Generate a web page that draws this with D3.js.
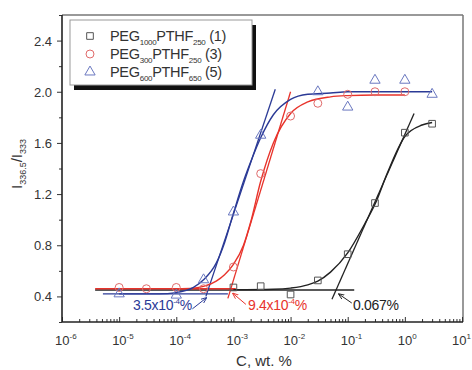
<!DOCTYPE html>
<html><head><meta charset="utf-8">
<script src="https://cdn.jsdelivr.net/npm/d3@7/dist/d3.min.js"></script>
<style>body{margin:0;background:#fff}svg{display:block}text{font-family:"Liberation Sans",Arial,sans-serif}</style>
</head><body><svg id="c" width="472" height="370"></svg>
<script>
// ---- data ----
const yTicks = [0.4, 0.8, 1.2, 1.6, 2.0, 2.4];
const yMinor = [0.2, 0.6, 1.0, 1.4, 1.8, 2.2, 2.6];
const xExponents = [-6, -5, -4, -3, -2, -1, 0, 1];

// series 1: PEG1000PTHF250 (black squares)
const conc1 = [1e-3, 3e-3, 1e-2, 3e-2, 0.1, 0.3, 1, 3];
const ratio1 = [0.47, 0.48, 0.415, 0.525, 0.73, 1.13, 1.68, 1.75];
// series 3: PEG300PTHF250 (red circles)
const conc3 = [1e-5, 3e-5, 1e-4, 3e-4, 1e-3, 3e-3, 1e-2, 3e-2, 0.1, 0.3, 1];
const ratio3 = [0.47, 0.46, 0.47, 0.46, 0.63, 1.36, 1.81, 1.91, 1.98, 2.0, 2.0];
// series 5: PEG600PTHF650 (blue triangles)
const conc5 = [1e-5, 1e-4, 3e-4, 1e-3, 3e-3, 3e-2, 0.1, 0.3, 1, 3];
const ratio5 = [0.42, 0.41, 0.53, 1.06, 1.66, 2.0, 1.88, 2.09, 2.09, 1.98];

// fitted curves (traced)
const fit1C = [1e-3, 5e-3, 1e-2, 2e-2, 3e-2, 5e-2, 0.1, 0.2, 0.3, 0.5, 1, 2, 3];
const fit1R = [0.452, 0.456, 0.465, 0.49, 0.52, 0.59, 0.74, 0.97, 1.12, 1.37, 1.65, 1.74, 1.76];
const fit3C = [1e-4, 2e-4, 3e-4, 5e-4, 7e-4, 1e-3, 1.5e-3, 2e-3, 3e-3, 5e-3, 1e-2, 2e-2, 5e-2, 0.1, 0.3, 1];
const fit3R = [0.46, 0.465, 0.478, 0.52, 0.57, 0.65, 0.80, 0.98, 1.30, 1.60, 1.83, 1.92, 1.96, 1.97, 1.975, 1.975];
const fit5C = [1e-5, 5e-5, 1e-4, 2e-4, 3e-4, 5e-4, 7e-4, 1e-3, 1.5e-3, 2e-3, 3e-3, 5e-3, 1e-2, 2e-2, 5e-2, 0.1, 0.3, 1, 3];
const fit5R = [0.42, 0.42, 0.43, 0.47, 0.53, 0.66, 0.82, 1.05, 1.30, 1.45, 1.64, 1.82, 1.94, 1.98, 1.99, 2.0, 2.0, 2.0, 2.0];

// baselines and tangents [x1, y1, x2, y2]
const base1 = [3.8e-6, 0.45, 0.13, 0.45];
const base3 = [3.8e-6, 0.46, 1.1e-3, 0.46];
const base5 = [5.2e-6, 0.42, 8e-4, 0.42];
const tan1 = [0.053, 0.377, 1.45, 1.83];
const tan3 = [8e-4, 0.385, 1.0e-2, 2.0];
const tan5 = [3.3e-4, 0.40, 5.4e-3, 2.02];

// CMC annotations: anchor (data), label
const cmcVal = [3.5e-4, 9.4e-4, 0.067];
const cmcLevel = [0.42, 0.455, 0.45];

const colors = {k: "#222", r: "#e8332b", b: "#2b3a96"};
const markColors = {k: "#555", r: "#e06a6a", b: "#6a78c0"};

// ---- layout ----
const svg = d3.select("#c");
const L = 62, R = 463, T = 15, B = 322;
const x = d3.scaleLog().domain([1e-6, 10]).range([L, 462]);
const y = d3.scaleLinear().domain([0.2, 2.6]).range([B, T]);

// frame
svg.append("line").attr("x1", L).attr("x2", R).attr("y1", T).attr("y2", T).attr("stroke", "#777").attr("stroke-width", 1.5);
svg.append("line").attr("x1", R).attr("x2", R).attr("y1", T).attr("y2", B).attr("stroke", "#777").attr("stroke-width", 1.5);

// y axis ticks (outward)
const yAxis = d3.axisLeft(y).tickValues(yTicks).tickSize(5).tickFormat(d3.format(".1f"));
const gy = svg.append("g").attr("transform", `translate(${L},0)`).call(yAxis);
gy.select(".domain").remove();
gy.selectAll(".tick line").attr("stroke", "#333");
gy.selectAll(".tick text").attr("font-size", 13).attr("fill", "#333").attr("x", -10).attr("dy", "0.35em")
  .attr("font-family", '"Liberation Sans",Arial,sans-serif');
const gym = svg.append("g").attr("transform", `translate(${L},0)`).call(d3.axisLeft(y).tickValues(yMinor).tickSize(3).tickFormat(""));
gym.select(".domain").remove();
gym.selectAll(".tick line").attr("stroke", "#333");

// x axis ticks (inward)
const majors = xExponents.map(e => Math.pow(10, e));
const minors = [];
xExponents.slice(0, -1).forEach(e => { for (let k = 2; k <= 9; k++) minors.push(k * Math.pow(10, e)); });
const gx = svg.append("g").attr("transform", `translate(0,${B})`).call(d3.axisBottom(x).tickValues(majors).tickSize(-5).tickFormat(""));
gx.select(".domain").remove();
gx.selectAll(".tick line").attr("stroke", "#333");
const gxm = svg.append("g").attr("transform", `translate(0,${B})`).call(d3.axisBottom(x).tickValues(minors).tickSize(-3).tickFormat(""));
gxm.select(".domain").remove();
gxm.selectAll(".tick line").attr("stroke", "#333");
xExponents.forEach((e, i) => {
  const last = i === xExponents.length - 1;
  const t = svg.append("text").attr("x", x(Math.pow(10, e)) - (last ? 10 : 7)).attr("y", 345).attr("font-size", 13).attr("fill", "#333");
  t.append("tspan").text("10");
  t.append("tspan").attr("dy", -6).attr("font-size", 8).text(e < 0 ? "-" + (-e) : String(e));
});

// axes lines
svg.append("line").attr("x1", L).attr("x2", L).attr("y1", T).attr("y2", B).attr("stroke", "#222").attr("stroke-width", 1.6);
svg.append("line").attr("x1", L).attr("x2", R).attr("y1", B).attr("y2", B).attr("stroke", "#222").attr("stroke-width", 1.6);

// axis titles
svg.append("text").attr("x", 264).attr("y", 366).attr("text-anchor", "middle").attr("font-size", 15).attr("fill", "#333").text("C, wt. %");
const yt = svg.append("text").attr("transform", "translate(22,164) rotate(-90)").attr("text-anchor", "middle").attr("font-size", 15).attr("fill", "#333");
yt.append("tspan").text("I");
yt.append("tspan").attr("font-size", 9).attr("dy", 4).text("336.5");
yt.append("tspan").attr("dy", -4).text("/I");
yt.append("tspan").attr("font-size", 9).attr("dy", 4).text("333");

// lines
const seg = (a, c, w) => svg.append("line").attr("x1", x(a[0])).attr("y1", y(a[1])).attr("x2", x(a[2])).attr("y2", y(a[3])).attr("stroke", c).attr("stroke-width", w);
seg(base5, colors.b, 1.4);
seg(base1, colors.k, 1.4);
seg(base3, colors.r, 1.4);
seg(tan1, colors.k, 1.3);
seg(tan3, colors.r, 1.3);
seg(tan5, colors.b, 1.3);

const line = d3.line().x(d => x(d[0])).y(d => y(d[1])).curve(d3.curveMonotoneX);
const curve = (cs, rs, c) => svg.append("path").attr("d", line(cs.map((v, i) => [v, rs[i]]))).attr("fill", "none").attr("stroke", c).attr("stroke-width", 1.4);
curve(fit1C, fit1R, colors.k);
curve(fit3C, fit3R, colors.r);
curve(fit5C, fit5R, colors.b);

// markers
const sq = d3.symbol().type(d3.symbolSquare).size(44);
const ci = d3.symbol().type(d3.symbolCircle).size(50);
const tr = d3.symbol().type(d3.symbolTriangle).size(46);
const pts = (cs, rs, sym, c) => svg.append("g").selectAll("path").data(cs.map((v, i) => [v, rs[i]])).join("path")
  .attr("transform", d => `translate(${x(d[0])},${y(d[1])})`).attr("d", sym).attr("fill", "none").attr("stroke", c).attr("stroke-width", 1);
pts(conc1, ratio1, sq, markColors.k);
pts(conc3, ratio3, ci, markColors.r);
pts(conc5, ratio5, tr, markColors.b);

// annotations
const defs = svg.append("defs");
[["k", colors.k], ["r", colors.r], ["b", colors.b]].forEach(([id, c]) => {
  defs.append("marker").attr("id", "ah" + id).attr("viewBox", "0 0 10 10").attr("refX", 9).attr("refY", 5)
    .attr("markerWidth", 6).attr("markerHeight", 6).attr("orient", "auto")
    .append("path").attr("d", "M0,1 L10,5 L0,9").attr("fill", "none").attr("stroke", c).attr("stroke-width", 1.5);
});
const annot = [
  {i: 0, c: "b", id: "b", dx: -15, dy: 12, tx: 133, parts: ["3.5x10", "-4", "%"]},
  {i: 1, c: "r", id: "r", dx: 14, dy: 12, tx: 248, parts: ["9.4x10", "-4", "%"]},
  {i: 2, c: "k", id: "k", dx: 14, dy: 10, tx: 353, parts: ["0.067%"]}
];
annot.forEach(a => {
  const ax = x(cmcVal[a.i]), ay = y(cmcLevel[a.i]) + 3;
  svg.append("line").attr("x1", ax + a.dx).attr("y1", ay + a.dy).attr("x2", ax + (a.dx < 0 ? -1 : 1)).attr("y2", ay + 1)
    .attr("stroke", colors[a.c]).attr("stroke-width", 1).attr("marker-end", `url(#ah${a.id})`);
  const t = svg.append("text").attr("x", a.tx).attr("y", 310).attr("font-size", 14).attr("fill", colors[a.c]).attr("letter-spacing", -0.3);
  if (a.parts.length === 1) t.text(a.parts[0]);
  else {
    t.append("tspan").text(a.parts[0]);
    t.append("tspan").attr("dy", -6).attr("font-size", 8).text(a.parts[1]);
    t.append("tspan").attr("dy", 6).text(a.parts[2]);
  }
});

// legend
const lg = svg.append("g");
lg.append("rect").attr("x", 74).attr("y", 25).attr("width", 182).attr("height", 65).attr("fill", "#111");
lg.append("rect").attr("x", 70).attr("y", 20).attr("width", 182).attr("height", 65).attr("fill", "#fff").attr("stroke", "#999").attr("stroke-width", 1);
const legItems = [
  {sym: sq, c: markColors.k, a: "1000", b: "250", n: "(1)"},
  {sym: ci, c: markColors.r, a: "300", b: "250", n: "(3)"},
  {sym: tr, c: markColors.b, a: "600", b: "650", n: "(5)"}
];
legItems.forEach((d, i) => {
  const yy = 41 + i * 18;
  lg.append("path").attr("transform", `translate(90,${yy - 5})`).attr("d", d.sym).attr("fill", "none").attr("stroke", d.c).attr("stroke-width", 1);
  const t = lg.append("text").attr("x", 110).attr("y", yy).attr("font-size", 14.5).attr("fill", "#333").attr("letter-spacing", -0.3);
  t.append("tspan").text("PEG");
  t.append("tspan").attr("dy", 4).attr("font-size", 8).text(d.a);
  t.append("tspan").attr("dy", -4).text("PTHF");
  t.append("tspan").attr("dy", 4).attr("font-size", 8).text(d.b);
  t.append("tspan").attr("dy", -4).text(" " + d.n);
});
</script></body></html>
